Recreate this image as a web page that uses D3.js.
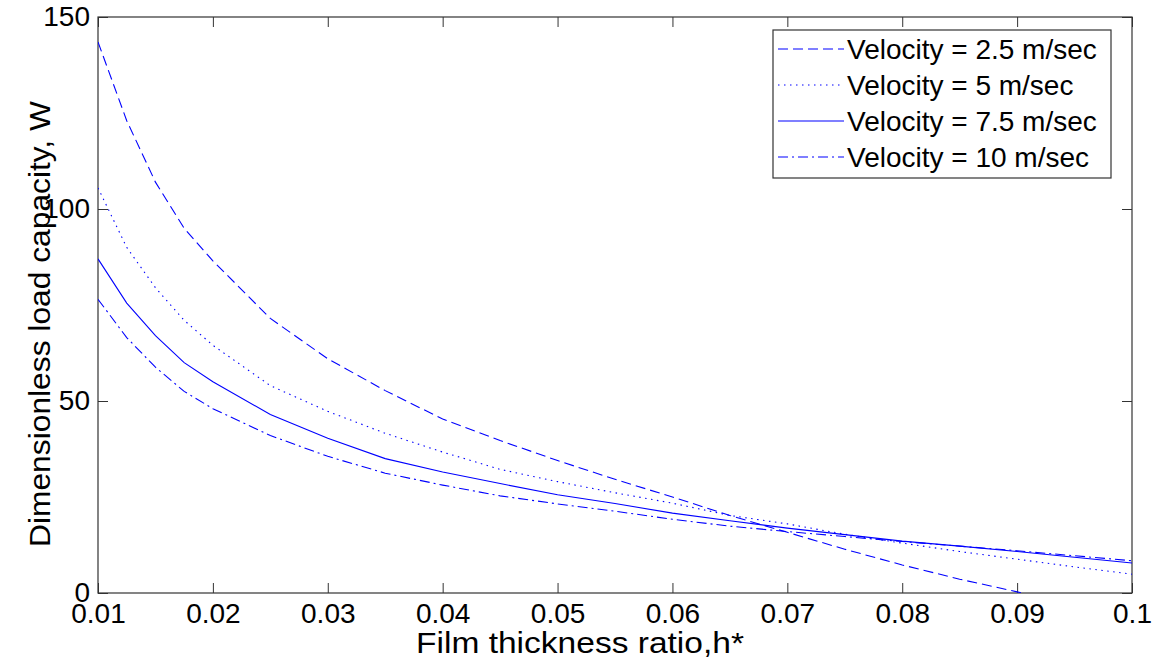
<!DOCTYPE html>
<html>
<head>
<meta charset="utf-8">
<script src="https://cdn.jsdelivr.net/npm/d3@7"></script>
<style>
  body { margin: 0; background: #fff; }
  svg { font-family: "Liberation Sans", Arial, sans-serif; }
</style>
</head>
<body>
<svg id="canvas"></svg>
<script>
const hValues = [0.01, 0.0125, 0.015, 0.0175, 0.02, 0.025, 0.03, 0.035, 0.04, 0.045, 0.05,
                 0.055, 0.06, 0.065, 0.07, 0.075, 0.08, 0.085, 0.09, 0.095, 0.1];

const w25 = [143.5, 123, 107, 95, 86.5, 71.5, 61, 52.7, 45.3, 39.7, 34.5,
             29.6, 25, 20.2, 15.8, 11.4, 7.3, 3.6, 0.3, -3, -6.5];
const w5 = [105.5, 90, 79.5, 71, 64.5, 54, 47.3, 41.6, 36.7, 32.2, 29,
            26.1, 23.4, 20.2, 18, 15.3, 13, 10.8, 8.8, 6.8, 4.9];
const w75 = [87, 75.5, 67, 60, 55, 46.5, 40.3, 35, 31.5, 28.5, 25.6,
             23.3, 20.8, 18.8, 16.9, 15.2, 13.5, 12.2, 10.8, 9.3, 7.8];
const w10 = [76.5, 66.5, 58.8, 52.5, 48, 41, 35.6, 31.2, 28.1, 25.3, 23.2,
             21.3, 19.2, 17.4, 16, 14.7, 13.4, 12.2, 11, 9.7, 8.4];

const seriesNames = ["Velocity = 2.5 m/sec", "Velocity = 5 m/sec", "Velocity = 7.5 m/sec", "Velocity = 10 m/sec"];
const seriesValues = [w25, w5, w75, w10];
const seriesDash = ["10,5", "1.5,4.5", null, "10,4,2,4"];

const xTicks = [0.01, 0.02, 0.03, 0.04, 0.05, 0.06, 0.07, 0.08, 0.09, 0.1];
const yTicks = [0, 50, 100, 150];

const width = 1158;
const height = 661;
const padLeft = 98, padRight = 1132, padTop = 17, padBottom = 593;
const tickLen = 10;

const svg = d3.select("#canvas")
    .attr("width", width)
    .attr("height", height);

const x = d3.scaleLinear().domain([0.01, 0.1]).range([padLeft, padRight]);
const y = d3.scaleLinear().domain([0, 150]).range([padBottom, padTop]);

svg.append("defs").append("clipPath")
    .attr("id", "plot-clip")
    .append("rect")
    .attr("x", padLeft)
    .attr("y", padTop)
    .attr("width", padRight - padLeft)
    .attr("height", padBottom - padTop);

// axes, ticks inside on all four sides (matlab box style)
const fmt = d => d === 0.1 ? "0.1" : String(+d.toFixed(2));

svg.append("g")
    .attr("transform", `translate(0, ${padBottom})`)
    .call(d3.axisBottom(x).tickValues(xTicks).tickSizeInner(-tickLen).tickSizeOuter(0).tickPadding(10).tickFormat(fmt))
    .call(g => g.select(".domain").remove())
    .call(g => g.selectAll("text").attr("font-size", 28).attr("fill", "#000").attr("dy", "0.71em"));

svg.append("g")
    .attr("transform", `translate(0, ${padTop})`)
    .call(d3.axisTop(x).tickValues(xTicks).tickSizeInner(-tickLen).tickSizeOuter(0).tickFormat(""))
    .call(g => g.select(".domain").remove());

svg.append("g")
    .attr("transform", `translate(${padLeft}, 0)`)
    .call(d3.axisLeft(y).tickValues(yTicks).tickSizeInner(-tickLen).tickSizeOuter(0).tickPadding(8))
    .call(g => g.select(".domain").remove())
    .call(g => g.selectAll("text").attr("font-size", 28).attr("fill", "#000"));

svg.append("g")
    .attr("transform", `translate(${padRight}, 0)`)
    .call(d3.axisRight(y).tickValues(yTicks).tickSizeInner(-tickLen).tickSizeOuter(0).tickFormat(""))
    .call(g => g.select(".domain").remove());

svg.selectAll(".tick line").attr("stroke", "#333");

svg.append("rect")
    .attr("x", padLeft)
    .attr("y", padTop)
    .attr("width", padRight - padLeft)
    .attr("height", padBottom - padTop)
    .attr("fill", "none")
    .attr("stroke", "#333")
    .attr("stroke-width", 1.2);

// curves
const line = d3.line()
    .x((d, i) => x(hValues[i]))
    .y(d => y(d));

svg.append("g")
    .attr("clip-path", "url(#plot-clip)")
    .selectAll("path")
    .data(seriesValues)
    .enter()
    .append("path")
    .attr("d", d => line(d))
    .attr("fill", "none")
    .attr("stroke", "#0000ff")
    .attr("stroke-width", 1.1)
    .attr("stroke-dasharray", (d, i) => seriesDash[i]);

// axis labels (matlab renders them wider than the ticks)
svg.append("text")
    .attr("x", 580)
    .attr("y", 653)
    .attr("text-anchor", "middle")
    .attr("font-size", 29)
    .attr("textLength", 328)
    .attr("lengthAdjust", "spacingAndGlyphs")
    .text("Film thickness ratio,h*");

svg.append("text")
    .attr("transform", `translate(50, 324) rotate(-90)`)
    .attr("text-anchor", "middle")
    .attr("font-size", 29)
    .attr("textLength", 446)
    .attr("lengthAdjust", "spacingAndGlyphs")
    .text("Dimensionless load capacity, W");

// legend
const legend = svg.append("g");
legend.append("rect")
    .attr("x", 773)
    .attr("y", 30)
    .attr("width", 338)
    .attr("height", 148)
    .attr("fill", "#fff")
    .attr("stroke", "#333")
    .attr("stroke-width", 1.2);

const rows = legend.selectAll(".key")
    .data(seriesNames)
    .enter()
    .append("g")
    .attr("class", "key")
    .attr("transform", (d, i) => `translate(0, ${49 + i * 36})`);

rows.append("line")
    .attr("x1", 778)
    .attr("x2", 844)
    .attr("stroke", "#0000ff")
    .attr("stroke-width", 1.1)
    .attr("stroke-dasharray", (d, i) => seriesDash[i]);

rows.append("text")
    .attr("x", 847)
    .attr("dy", "0.36em")
    .attr("font-size", 28)
    .text(d => d);
</script>
</body>
</html>
